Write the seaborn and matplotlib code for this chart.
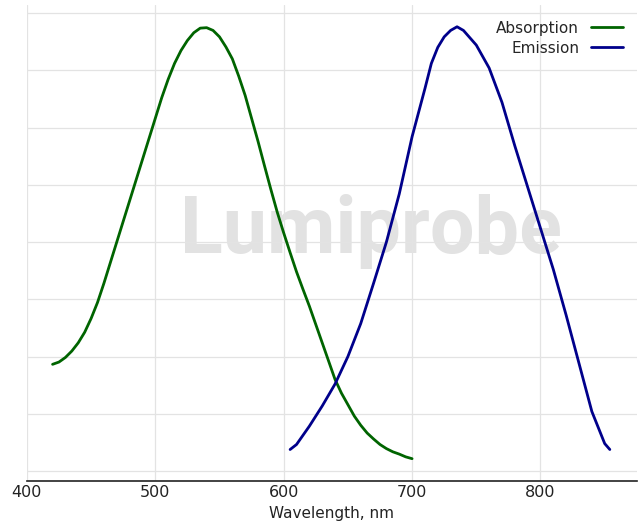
import numpy as np
import pandas as pd
import matplotlib
matplotlib.use("Agg")
import matplotlib.pyplot as plt
import seaborn as sns
from matplotlib.ticker import MultipleLocator

# absorption spectrum (normalized)
abs_nm = [420, 425, 430, 435, 440, 445, 450, 455, 460, 465, 470, 475, 480,
          485, 490, 495, 500, 505, 510, 515, 520, 525, 530, 535, 540, 545,
          550, 555, 560, 565, 570, 575, 580, 585, 590, 595, 600, 605, 610,
          615, 620, 625, 630, 635, 640, 645, 650, 655, 660, 665, 670, 675,
          680, 685, 690, 695, 700]
abs_val = [0.233, 0.238, 0.248, 0.262, 0.28, 0.303, 0.333, 0.368, 0.41,
           0.455, 0.50, 0.545, 0.59, 0.635, 0.68, 0.725, 0.77, 0.815, 0.855,
           0.89, 0.918, 0.94, 0.957, 0.967, 0.968, 0.962, 0.948, 0.926, 0.90,
           0.862, 0.82, 0.77, 0.72, 0.667, 0.615, 0.565, 0.52, 0.477, 0.435,
           0.397, 0.36, 0.32, 0.28, 0.24, 0.20, 0.17, 0.145, 0.12, 0.10,
           0.083, 0.07, 0.058, 0.049, 0.042, 0.037, 0.031, 0.027]

# emission spectrum (normalized)
em_nm = [605, 610, 620, 630, 640, 650, 660, 670, 680, 690, 700, 710, 715,
         720, 725, 730, 735, 740, 750, 760, 770, 780, 790, 800, 810, 820,
         830, 840, 850, 854]
em_val = [0.047, 0.058, 0.098, 0.142, 0.19, 0.25, 0.322, 0.41, 0.50, 0.605,
          0.73, 0.835, 0.89, 0.925, 0.948, 0.962, 0.97, 0.962, 0.93, 0.88,
          0.805, 0.71, 0.62, 0.53, 0.44, 0.34, 0.235, 0.13, 0.06, 0.047]

df = pd.concat([
    pd.DataFrame({'nm': abs_nm, 'val': abs_val, 'kind': 'Absorption'}),
    pd.DataFrame({'nm': em_nm, 'val': em_val, 'kind': 'Emission'}),
])

sns.set_style("white")
fig = plt.figure(figsize=(6.4, 5.24), dpi=100)
ax = fig.add_axes([0.042, 0.082, 0.953, 0.908])

# watermark
ax.text(0.251, 0.48, 'Lumiprobe', transform=ax.transAxes, fontsize=57,
        color='#e2e2e2', ha='left', va='baseline', zorder=0,
        family=['Roboto', 'DejaVu Sans'], weight='bold')

sns.lineplot(data=df, x='nm', y='val', hue='kind',
             palette={'Absorption': '#006400', 'Emission': '#00008b'},
             linewidth=2, ax=ax, zorder=3)

ax.set_xlim(400, 875)
ax.set_ylim(-0.0218, 1.017)
ax.xaxis.set_major_locator(MultipleLocator(100))
ax.xaxis.set_minor_locator(MultipleLocator(20))
ax.set_yticks(np.arange(0, 1.01, 0.125))
ax.set_yticklabels([])
ax.grid(True, which='major', color='#e3e3e3', linewidth=0.9)
ax.set_axisbelow(True)
ax.tick_params(axis='y', length=0)
ax.tick_params(axis='x', which='major', direction='in', length=6.5, width=1,
               labelsize=11.5, colors='#222222', pad=3)
ax.tick_params(axis='x', which='minor', direction='in', length=3, width=0.8,
               colors='#222222')
for s in ['left', 'top', 'right']:
    ax.spines[s].set_visible(False)
ax.spines['bottom'].set_color('#222222')
ax.spines['bottom'].set_linewidth(1.2)

ax.set_xlabel('Wavelength, nm', fontsize=11, color='#222222', labelpad=4)
ax.set_ylabel('')

leg = ax.legend(loc='upper right', markerfirst=False, frameon=False,
                fontsize=11, handlelength=2.1, borderaxespad=0.6,
                labelspacing=0.33, bbox_to_anchor=(1.003, 1.0))

fig.savefig('out.png', dpi=100)
